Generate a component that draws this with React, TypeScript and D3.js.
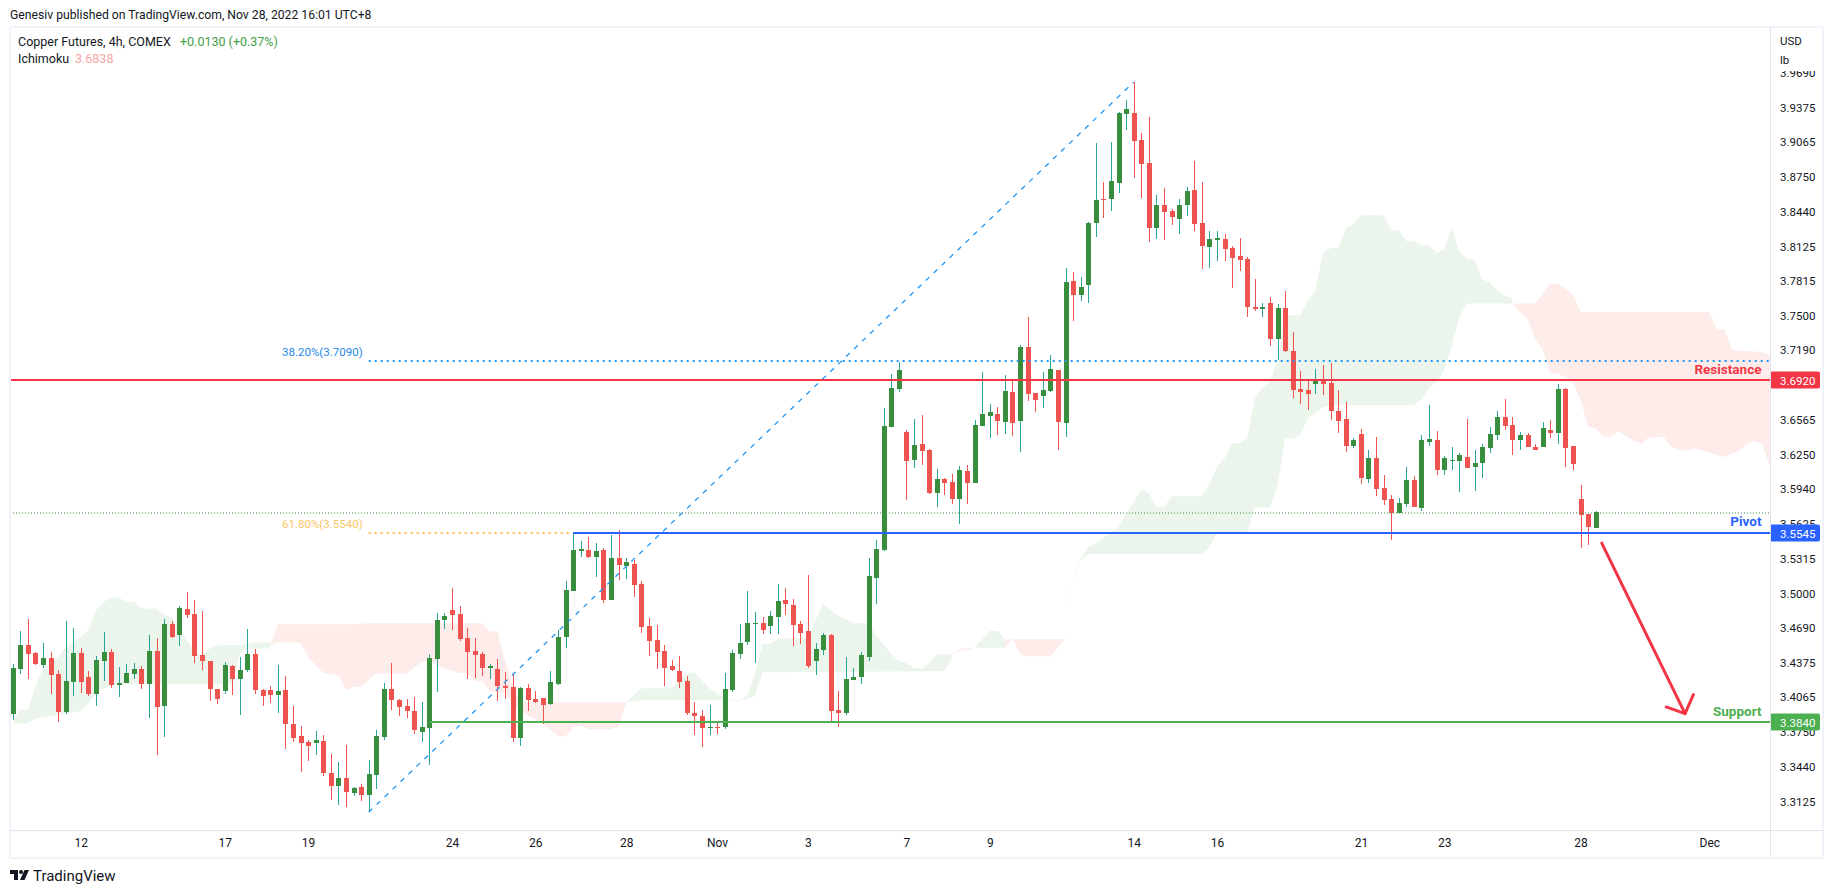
import { useEffect, useRef } from "react";
import * as d3 from "d3";

type Pt = [number, number];

const highs = [
  3.4362, 3.4659, 3.4767, 3.447, 3.4551, 3.447, 3.4308, 3.4749, 3.4686, 3.4506,
  3.4299, 3.4434, 3.465, 3.4497, 3.4335, 3.4362, 3.4371, 3.4344, 3.4623, 3.4596,
  3.4767, 3.4749, 3.4884, 3.5011, 3.4938, 3.4839, 3.4389, 3.4137, 3.438, 3.4353,
  3.4425, 3.4677, 3.4497, 3.4137, 3.4164, 3.4353, 3.4254, 3.3984, 3.3803, 3.3677,
  3.3758, 3.3722, 3.3551, 3.3479, 3.3632, 3.3254, 3.3281, 3.3497, 3.3767, 3.4191,
  3.4371, 3.4047, 3.4047, 3.4065, 3.402, 3.4452, 3.4821, 3.4821, 3.5047, 3.4884,
  3.4686, 3.4596, 3.447, 3.4362, 3.4407, 3.4289, 3.4271, 3.4154, 3.4181, 3.4118,
  3.4055, 3.4298, 3.4668, 3.5109, 3.5542, 3.547, 3.5506, 3.5452, 3.5407, 3.5524,
  3.5569, 3.5316, 3.5298, 3.5109, 3.4776, 3.4713, 3.4533, 3.4398, 3.4434, 3.4253,
  3.4019, 3.3947, 3.3992, 3.3839, 3.428, 3.4488, 3.4722, 3.5019, 3.483, 3.4785,
  3.4839, 3.5082, 3.5046, 3.4947, 3.4749, 3.5163, 3.4551, 3.4641, 3.4632, 3.4118,
  3.4425, 3.4325, 3.447, 3.5316, 3.5479, 3.6667, 3.6974, 3.7082, 3.6469, 3.6568,
  3.6604, 3.6298, 3.6118, 3.6037, 3.6073, 3.6145, 3.6154, 3.6559, 3.6992, 3.6703,
  3.6676, 3.6965, 3.6919, 3.7235, 3.7488, 3.6802, 3.6992, 3.7145, 3.701, 3.7929,
  3.7893, 3.7848, 3.8344, 3.9055, 3.8704, 3.9064, 3.9335, 3.9443, 3.9605, 3.9145,
  3.9289, 3.8587, 3.865, 3.8461, 3.8551, 3.8659, 3.8893, 3.8704, 3.8262, 3.8262,
  3.8235, 3.8127, 3.8199, 3.8028, 3.783, 3.7614, 3.7668, 3.7605, 3.7722, 3.7353,
  3.7001, 3.692, 3.702, 3.7055, 3.7074, 3.683, 3.6722, 3.6398, 3.6479, 3.629,
  3.6407, 3.6065, 3.5884, 3.5857, 3.6137, 3.6056, 3.6425, 3.6695, 3.6461, 3.6236,
  3.6317, 3.6263, 3.6568, 3.629, 3.6344, 3.6497, 3.6641, 3.6749, 3.6587, 3.6452,
  3.6443, 3.6344, 3.6542, 3.656, 3.6884, 3.6848, 3.6326, 3.5975, 3.5713, 3.574,
];

const lows = [
  3.3857, 3.4272, 3.4227, 3.4353, 3.4326, 3.4092, 3.3839, 3.3911, 3.4074, 3.4101,
  3.4074, 3.3984, 3.4209, 3.4146, 3.4065, 3.4191, 3.4227, 3.4137, 3.3875, 3.3542,
  3.3704, 3.4596, 3.4524, 3.4776, 3.4371, 3.4308, 3.4029, 3.4002, 3.4092, 3.4083,
  3.3902, 3.429, 3.4092, 3.3984, 3.4011, 3.392, 3.3596, 3.3659, 3.3389, 3.3488,
  3.3542, 3.3353, 3.3137, 3.3092, 3.3074, 3.3173, 3.3128, 3.3029, 3.3236, 3.3677,
  3.3947, 3.3893, 3.3875, 3.3731, 3.3659, 3.3452, 3.411, 3.4677, 3.4668, 3.4569,
  3.4226, 3.4235, 3.4253, 3.4226, 3.4028, 3.4046, 3.3659, 3.3623, 3.3938, 3.401,
  3.3821, 3.3992, 3.4172, 3.4506, 3.5019, 3.5325, 3.5316, 3.5145, 3.4911, 3.4938,
  3.5118, 3.5127, 3.4965, 3.4641, 3.4434, 3.4316, 3.4163, 3.4298, 3.4145, 3.3902,
  3.3722, 3.3614, 3.3722, 3.3731, 3.3776, 3.4109, 3.4407, 3.4533, 3.4371, 3.4632,
  3.4632, 3.4632, 3.4803, 3.4524, 3.4542, 3.4325, 3.4262, 3.4443, 3.3848, 3.3794,
  3.3902, 3.4217, 3.4181, 3.4389, 3.4902, 3.5379, 3.6496, 3.6811, 3.5838, 3.6127,
  3.6154, 3.5892, 3.5775, 3.5883, 3.5802, 3.5622, 3.5802, 3.5992, 3.6505, 3.6397,
  3.6424, 3.6433, 3.6415, 3.6271, 3.673, 3.6631, 3.6667, 3.6811, 3.6289, 3.6406,
  3.7452, 3.7632, 3.7614, 3.8208, 3.838, 3.8443, 3.8605, 3.9172, 3.874, 3.856,
  3.8163, 3.819, 3.8181, 3.8317, 3.8235, 3.8398, 3.8262, 3.792, 3.7929, 3.7992,
  3.7992, 3.7749, 3.7902, 3.7488, 3.7542, 3.7488, 3.7226, 3.71, 3.7172, 3.6758,
  3.6704, 3.665, 3.6794, 3.6785, 3.656, 3.6443, 3.6272, 3.6308, 3.5984, 3.5992,
  3.5875, 3.5794, 3.5479, 3.5722, 3.5776, 3.5776, 3.574, 3.6326, 3.6065, 3.6065,
  3.6109, 3.5911, 3.6127, 3.592, 3.6037, 3.6263, 3.638, 3.647, 3.6245, 3.629,
  3.6317, 3.629, 3.6317, 3.6398, 3.6344, 3.6137, 3.6109, 3.5407, 3.5434, 3.5587,
];

const opens = [
  3.3911, 3.4317, 3.4533, 3.4461, 3.4353, 3.4416, 3.4272, 3.3929, 3.42, 3.4461,
  3.4245, 3.4092, 3.4389, 3.447, 3.4173, 3.4191, 3.4272, 3.4317, 3.4182, 3.4479,
  3.3984, 3.4722, 3.4623, 3.4857, 3.4812, 3.4443, 3.4389, 3.4137, 3.4119, 3.4344,
  3.4227, 3.4308, 3.4452, 3.4128, 3.4128, 3.4083, 3.4128, 3.3821, 3.3713, 3.3659,
  3.365, 3.3668, 3.338, 3.3263, 3.3335, 3.32, 3.3254, 3.3182, 3.3362, 3.3704,
  3.4137, 3.4038, 3.3984, 3.3938, 3.3749, 3.3785, 3.4407, 3.4758, 3.4848, 3.4812,
  3.4596, 3.4479, 3.4452, 3.4325, 3.4316, 3.4163, 3.4154, 3.3695, 3.4145, 3.4046,
  3.4055, 3.4001, 3.4181, 3.4605, 3.5019, 3.538, 3.5389, 3.5325, 3.5389, 3.4938,
  3.5316, 3.5244, 3.5262, 3.5082, 3.4704, 3.4578, 3.4479, 3.4344, 3.4298, 3.4208,
  3.392, 3.3893, 3.3785, 3.3794, 3.3794, 3.4127, 3.4452, 3.456, 3.4722, 3.4731,
  3.4704, 3.4785, 3.4938, 3.4893, 3.4722, 3.4659, 3.4389, 3.4488, 3.4623, 3.3947,
  3.392, 3.4217, 3.4244, 3.4425, 3.5136, 3.5388, 3.6496, 3.6838, 3.6451, 3.6199,
  3.6343, 3.6289, 3.5901, 3.6028, 3.6001, 3.5847, 3.61, 3.5992, 3.6505, 3.6595,
  3.6613, 3.6541, 3.6811, 3.655, 3.7217, 3.6802, 3.6775, 3.682, 3.701, 3.6532,
  3.7812, 3.7686, 3.7776, 3.8335, 3.8551, 3.8551, 3.8695, 3.9317, 3.9326, 3.9082,
  3.8875, 3.8289, 3.8497, 3.8443, 3.8371, 3.8497, 3.8632, 3.8335, 3.8118, 3.8181,
  3.819, 3.8109, 3.8037, 3.801, 3.7578, 3.756, 3.7614, 3.729, 3.7569, 3.7181,
  3.6839, 3.683, 3.6884, 3.692, 3.6893, 3.6641, 3.6569, 3.6326, 3.6434, 3.6028,
  3.6218, 3.5947, 3.5848, 3.5722, 3.5803, 3.602, 3.5767, 3.6362, 3.638, 3.6109,
  3.6191, 3.6191, 3.6227, 3.6137, 3.6173, 3.6308, 3.6425, 3.6587, 3.6515, 3.638,
  3.6425, 3.6317, 3.6317, 3.647, 3.6443, 3.6839, 3.6326, 3.5848, 3.5713, 3.5587,
];

const closes = [
  3.4326, 3.4533, 3.4452, 3.4362, 3.4416, 3.4263, 3.3929, 3.4209, 3.4461, 3.42,
  3.4092, 3.4398, 3.447, 3.4173, 3.4191, 3.4281, 3.4317, 3.4182, 3.4479, 3.3974,
  3.4722, 3.4605, 3.4866, 3.4803, 3.4434, 3.4389, 3.4137, 3.4047, 3.4353, 3.4227,
  3.4308, 3.4452, 3.4128, 3.4074, 3.4083, 3.4119, 3.3821, 3.3695, 3.365, 3.3623,
  3.3677, 3.338, 3.3263, 3.3335, 3.3209, 3.3245, 3.3182, 3.3371, 3.3713, 3.4137,
  3.4038, 3.3974, 3.3938, 3.3767, 3.3794, 3.4416, 3.4758, 3.4794, 3.4803, 3.4587,
  3.447, 3.4443, 3.4325, 3.4344, 3.4163, 3.4145, 3.3695, 3.4145, 3.4037, 3.4019,
  3.3992, 3.4199, 3.4605, 3.5028, 3.5389, 3.5398, 3.5325, 3.538, 3.4938, 3.5316,
  3.5253, 3.528, 3.5073, 3.4695, 3.4569, 3.447, 3.4325, 3.4307, 3.4199, 3.392,
  3.3893, 3.3785, 3.3794, 3.3785, 3.4136, 3.4461, 3.4551, 3.4731, 3.4731, 3.4668,
  3.4794, 3.4929, 3.4902, 3.4713, 3.4641, 3.4344, 3.4497, 3.4623, 3.3938, 3.392,
  3.4226, 3.4244, 3.4443, 3.5154, 3.5398, 3.6505, 3.6847, 3.701, 3.619, 3.6334,
  3.628, 3.5901, 3.6028, 3.5992, 3.5847, 3.6109, 3.5992, 3.6514, 3.6613, 3.6631,
  3.655, 3.682, 3.6532, 3.7217, 3.6793, 3.6739, 3.6829, 3.7019, 3.6541, 3.7803,
  3.7686, 3.7758, 3.8335, 3.8542, 3.8542, 3.8713, 3.9326, 3.9362, 3.9073, 3.8866,
  3.8289, 3.8497, 3.8434, 3.8389, 3.8497, 3.8623, 3.8326, 3.8127, 3.819, 3.8199,
  3.81, 3.8019, 3.8001, 3.7578, 3.756, 3.7578, 3.729, 3.7569, 3.7181, 3.683,
  3.6812, 3.6794, 3.692, 3.6884, 3.6641, 3.655, 3.6326, 3.638, 3.6037, 3.6218,
  3.5938, 3.5838, 3.5722, 3.5812, 3.602, 3.5776, 3.638, 3.6389, 3.6109, 3.6218,
  3.62, 3.6245, 3.6127, 3.6173, 3.6317, 3.6434, 3.6587, 3.6506, 3.638, 3.6425,
  3.6317, 3.629, 3.6488, 3.6443, 3.6839, 3.6308, 3.6164, 3.5704, 3.5596, 3.5731,
];

// ichimoku cloud outlines, [bar index, price]
const greenTop1: Pt[] = [
  [0, 3.3827], [1, 3.3956], [2, 3.3956], [3, 3.4158], [4, 3.4323], [6, 3.4428], [7, 3.4518],
  [9, 3.4608], [10, 3.4668], [11, 3.4848], [12, 3.4923], [13, 3.4962], [14, 3.4962], [15, 3.4923],
  [16, 3.4923], [17, 3.4863], [19, 3.4863], [20, 3.4803], [21, 3.4782], [23, 3.4578], [24, 3.4473],
  [25, 3.4443], [26, 3.4503], [27, 3.4533], [30, 3.4533], [32, 3.456], [34, 3.456],
];
const greenBottom1: Pt[] = [
  [0, 3.3827], [2, 3.3827], [3, 3.3872], [9, 3.3941], [10, 3.4007], [11, 3.4113], [13, 3.4173],
  [14, 3.4182], [29, 3.4182], [30, 3.4458], [31, 3.4503], [34, 3.4503],
];
const redTop1: Pt[] = [
  [34, 3.4533], [35, 3.4722], [45, 3.4722], [47, 3.4731], [62, 3.4731], [63, 3.4659], [64, 3.4659],
  [65, 3.4398], [66, 3.4157], [67, 3.4037], [68, 3.4019], [81, 3.4019],
];
const redBottom1: Pt[] = [
  [34, 3.4533], [35, 3.456], [38, 3.4554], [39, 3.4428], [40, 3.4353], [41, 3.4284], [43, 3.4263],
  [44, 3.4128], [45, 3.4158], [46, 3.4158], [48, 3.4278], [52, 3.4278], [54, 3.4383], [55, 3.4398],
  [57, 3.4322], [59, 3.4283], [60, 3.4283], [61, 3.4208], [62, 3.4208], [63, 3.4121], [65, 3.4103],
  [66, 3.4007], [68, 3.3902], [70, 3.3827], [72, 3.3713], [73, 3.3713], [74, 3.3797], [75, 3.3812],
  [76, 3.3776], [79, 3.3776], [80, 3.3797], [81, 3.4019],
];
const greenTop2: Pt[] = [
  [81, 3.4019], [83, 3.4145], [87, 3.4145], [89, 3.4277], [90, 3.4289], [91, 3.4217], [92, 3.4142],
  [93, 3.4097], [94, 3.4061], [95, 3.4037],
];
const greenBottom2: Pt[] = [[81, 3.4019], [83, 3.4037], [95, 3.4037]];
const redTop2: Pt[] = [[95, 3.4037], [96, 3.4037]];
const redBottom2: Pt[] = [[95, 3.4037], [96, 3.4025]];
const greenTop3: Pt[] = [
  [96, 3.4037], [97, 3.4082], [98, 3.4277], [99, 3.4542], [100, 3.4542], [101, 3.4596], [105, 3.4596],
  [106, 3.4758], [107, 3.4914], [108, 3.4848], [109, 3.4803], [111, 3.4731], [113, 3.4731], [114, 3.4623],
  [115, 3.4532], [116, 3.4457], [117, 3.4388], [118, 3.4373], [119, 3.4328], [120, 3.4322], [121, 3.4376],
  [122, 3.4451], [124, 3.4451],
];
const greenBottom3: Pt[] = [[96, 3.4031], [98, 3.4073], [99, 3.4289], [117, 3.4295], [123, 3.4301], [124, 3.4412]];
const redTop3: Pt[] = [[124, 3.4445], [125, 3.4502], [127, 3.4511]];
const redBottom3: Pt[] = [[124, 3.4445], [125, 3.4481], [126, 3.4493], [127, 3.4511]];
const greenTop4: Pt[] = [[127, 3.4511], [128, 3.4586], [129, 3.4661], [130, 3.4661], [131, 3.4586]];
const greenBottom4: Pt[] = [[127, 3.4511], [131, 3.4511]];
const redTop4: Pt[] = [[131, 3.4586], [139, 3.4586]];
const redBottom4: Pt[] = [
  [131, 3.4511], [132, 3.4586], [133, 3.4448], [134, 3.4433], [137, 3.4433], [138, 3.4514], [139, 3.4586],
];
const greenTop5: Pt[] = [
  [139, 3.4586], [140, 3.5145], [141, 3.5316], [142, 3.5418], [143, 3.5452], [146, 3.5596], [147, 3.5713],
  [148, 3.5824], [149, 3.5938], [150, 3.5902], [151, 3.5779], [152, 3.5779], [153, 3.5875], [157, 3.5875],
  [158, 3.5983], [159, 3.6139], [160, 3.6217], [161, 3.6352], [162, 3.6352], [163, 3.6409], [164, 3.6758],
  [165, 3.6848], [166, 3.6911], [167, 3.71], [168, 3.7506], [170, 3.7506], [171, 3.7641], [172, 3.7731],
  [173, 3.8067], [174, 3.8112], [175, 3.8112], [176, 3.8287], [177, 3.8332], [178, 3.8406], [181, 3.8406],
  [182, 3.8271], [183, 3.8271], [184, 3.8172], [185, 3.8172], [186, 3.8133], [187, 3.8133], [188, 3.8067],
  [189, 3.8097], [190, 3.8301], [191, 3.8076], [192, 3.801], [193, 3.801], [194, 3.783], [195, 3.7803],
  [196, 3.7731], [197, 3.7683], [198, 3.7656],
];
const greenBottom5: Pt[] = [
  [139, 3.4586], [140, 3.513], [141, 3.5298], [142, 3.5352], [157, 3.5352], [158, 3.5418], [159, 3.5542],
  [163, 3.5542], [164, 3.5773], [166, 3.5773], [167, 3.5974], [168, 3.6395], [169, 3.6395], [170, 3.6425],
  [171, 3.658], [172, 3.6623], [173, 3.6677], [174, 3.6695], [185, 3.6695], [186, 3.6746], [187, 3.6848],
  [188, 3.6905], [189, 3.701], [190, 3.7235], [191, 3.749], [192, 3.7611], [198, 3.7611],
];
const redTop5: Pt[] = [
  [198, 3.7611], [201, 3.7611], [202, 3.7695], [203, 3.7791], [204, 3.7791], [205, 3.7743], [206, 3.7695],
  [207, 3.7535], [224, 3.7535], [225, 3.7379], [226, 3.7379], [227, 3.719], [231, 3.7175], [232, 3.7145],
];
const redBottom5: Pt[] = [
  [198, 3.7611], [199, 3.7535], [200, 3.747], [201, 3.7296], [202, 3.7197], [203, 3.6986], [204, 3.698],
  [205, 3.6944], [206, 3.6905], [207, 3.674], [208, 3.6505], [209, 3.6484], [210, 3.6415], [211, 3.6409],
  [212, 3.646], [213, 3.6418], [214, 3.6374], [215, 3.6349], [216, 3.6403], [218, 3.6409], [219, 3.6319],
  [220, 3.6295], [221, 3.6283], [222, 3.6304], [223, 3.6289], [225, 3.6244], [226, 3.6229], [228, 3.629],
  [229, 3.6349], [230, 3.6373], [231, 3.6343], [232, 3.6145],
];

const greenClouds = [
  [greenTop1, greenBottom1], [greenTop2, greenBottom2], [greenTop3, greenBottom3],
  [greenTop4, greenBottom4], [greenTop5, greenBottom5],
];
const redClouds = [
  [redTop1, redBottom1], [redTop2, redBottom2], [redTop3, redBottom3],
  [redTop4, redBottom4], [redTop5, redBottom5],
];

const priceTicks = [
  3.969, 3.9375, 3.9065, 3.875, 3.844, 3.8125, 3.7815, 3.75, 3.719, 3.6565, 3.625, 3.594,
  3.5625, 3.5315, 3.5, 3.469, 3.4375, 3.4065, 3.375, 3.344, 3.3125,
];
const timeTickBars = [9, 28, 39, 58, 69, 81, 93, 105, 118, 129, 148, 159, 178, 189, 207, 224];
const timeTickLabels = ["12", "17", "19", "24", "26", "28", "Nov", "3", "7", "9", "14", "16", "21", "23", "28", "Dec"];

const resistance = 3.692;
const pivot = 3.5545;
const support = 3.384;
const fib382 = 3.709;
const fib618 = 3.554;
const lastClose = 3.5728;
const pivotStartBar = 74;
const supportStartBar = 55;
const trendFrom: Pt = [47, 3.3029];
const trendTo: Pt = [148, 3.9605];
const arrowLine: Pt[] = [[209.8, 3.5452], [220.8, 3.3917]];
const arrowHead: Pt[] = [[218.3, 3.3977], [220.8, 3.3917], [221.9, 3.4088]];

const W = 1834;
const H = 893;
const plot = { left: 10, right: 1770, top: 27, bottom: 830 };
const FONT = "Roboto, sans-serif";
const UP_BODY = "#388e3c";
const UP_WICK = "#26a69a";
const DOWN = "#ef5350";
const RED = "#f23645";
const BLUE = "#2962ff";
const GREEN = "#4caf50";

export default function App() {
  const svgRef = useRef<SVGSVGElement>(null);

  useEffect(() => {
    if (!svgRef.current) return;
    const svg = d3.select(svgRef.current);
    svg.selectAll("*").remove();

    const x = d3.scaleLinear().domain([0, 232]).range([12.7, 1769.9]);
    const y = d3.scaleLinear().domain([3.3125, 3.9375]).range([801.5, 107.7]);

    svg.append("rect").attr("width", W).attr("height", H).attr("fill", "#fff");

    svg
      .append("defs")
      .append("clipPath")
      .attr("id", "plot-clip")
      .append("rect")
      .attr("x", plot.left)
      .attr("y", plot.top)
      .attr("width", plot.right - plot.left)
      .attr("height", plot.bottom - plot.top);

    const chart = svg.append("g").attr("clip-path", "url(#plot-clip)");

    // clouds
    const outline = d3
      .line<Pt>()
      .x((d) => x(d[0]))
      .y((d) => y(d[1]));
    const drawClouds = (clouds: Pt[][][], color: string) => {
      chart
        .append("g")
        .selectAll("path")
        .data(clouds)
        .join("path")
        .attr("d", (d) => outline([...d[0], ...[...d[1]].reverse()]) + "Z")
        .attr("fill", color)
        .attr("fill-opacity", 0.1);
    };
    drawClouds(greenClouds, "#43a047");
    drawClouds(redClouds, "#f44336");

    // candles
    const bars = d3.range(closes.length);
    const candles = chart.append("g").attr("shape-rendering", "crispEdges");
    candles
      .selectAll("line")
      .data(bars)
      .join("line")
      .attr("x1", (i) => Math.round(x(i)) + 0.5)
      .attr("x2", (i) => Math.round(x(i)) + 0.5)
      .attr("y1", (i) => y(highs[i]))
      .attr("y2", (i) => y(lows[i]))
      .attr("stroke", (i) => (closes[i] >= opens[i] ? UP_WICK : DOWN));
    candles
      .selectAll("rect")
      .data(bars)
      .join("rect")
      .attr("x", (i) => Math.round(x(i)) - 2)
      .attr("width", 5)
      .attr("y", (i) => y(Math.max(opens[i], closes[i])))
      .attr("height", (i) => Math.max(1, Math.abs(y(opens[i]) - y(closes[i]))))
      .attr("fill", (i) => (closes[i] >= opens[i] ? UP_BODY : DOWN));

    // last price, fib levels, trend
    const hLine = (from: number, to: number, price: number, color: string, width: number, dash?: string) =>
      chart
        .append("line")
        .attr("x1", from)
        .attr("x2", to)
        .attr("y1", Math.round(y(price)))
        .attr("y2", Math.round(y(price)))
        .attr("stroke", color)
        .attr("stroke-width", width)
        .attr("stroke-dasharray", dash ?? null);

    hLine(plot.left, plot.right, lastClose, UP_BODY, 1, "1 2");
    hLine(x(trendFrom[0]), plot.right, fib382, "#2196f3", 2, "2 4");
    hLine(x(trendFrom[0]), x(pivotStartBar), fib618, "#ffb74d", 2, "2 4");
    chart
      .append("line")
      .attr("x1", x(trendFrom[0]))
      .attr("y1", y(trendFrom[1]))
      .attr("x2", x(trendTo[0]))
      .attr("y2", y(trendTo[1]))
      .attr("stroke", "#2196f3")
      .attr("stroke-width", 1.3)
      .attr("stroke-dasharray", "5 6");

    hLine(plot.left, plot.right, resistance, RED, 2);
    hLine(x(pivotStartBar), plot.right, pivot, BLUE, 2);
    hLine(x(supportStartBar), plot.right, support, GREEN, 2);

    // arrow
    const arrow = chart
      .append("g")
      .attr("fill", "none")
      .attr("stroke", RED)
      .attr("stroke-width", 3)
      .attr("stroke-linecap", "round")
      .attr("stroke-linejoin", "round");
    arrow.append("path").attr("d", outline(arrowLine));
    arrow.append("path").attr("d", outline(arrowHead));

    const label = (px: number, py: number, text: string, color: string, size = 12, anchor = "start", weight = 400) =>
      svg
        .append("text")
        .attr("x", px)
        .attr("y", py)
        .attr("fill", color)
        .attr("font-family", FONT)
        .attr("font-size", size)
        .attr("font-weight", weight)
        .attr("text-anchor", anchor)
        .text(text);

    label(x(trendFrom[0]) - 6, y(fib382) - 5, "38.20%(3.7090)", "#1e88e5", 11.5, "end");
    label(x(trendFrom[0]) - 6, y(fib618) - 5, "61.80%(3.5540)", "#f9c66a", 11.5, "end");
    label(1761.5, y(resistance) - 6, "Resistance", RED, 13.5, "end", 700);
    label(1761.5, y(pivot) - 7, "Pivot", BLUE, 13.5, "end", 700);
    label(1761.5, y(support) - 6, "Support", GREEN, 13.5, "end", 700);

    // axes
    const priceAxis = svg
      .append("g")
      .attr("transform", `translate(${plot.right},0)`)
      .call(
        d3
          .axisRight(y)
          .tickValues(priceTicks)
          .tickSize(0)
          .tickPadding(10)
          .tickFormat((d) => d3.format(".4f")(d as number))
      );
    priceAxis.select(".domain").remove();
    priceAxis.selectAll("text").attr("fill", "#131722").attr("font-family", FONT).attr("font-size", 11.5);

    const timeAxis = svg
      .append("g")
      .attr("transform", `translate(0,${plot.bottom})`)
      .call(
        d3
          .axisBottom(x)
          .tickValues(timeTickBars)
          .tickSize(0)
          .tickPadding(8)
          .tickFormat((_, i) => timeTickLabels[i])
      );
    timeAxis.select(".domain").remove();
    timeAxis.selectAll("text").attr("fill", "#131722").attr("font-family", FONT).attr("font-size", 12);

    // top of the price scale is masked by the currency block
    svg.append("rect").attr("x", plot.right + 1).attr("y", 27).attr("width", 52).attr("height", 44).attr("fill", "#fff");
    label(1780, 45, "USD", "#131722", 11.5);
    label(1780, 64, "lb", "#131722", 11.5);

    // price badges
    const badge = (price: number, color: string) => {
      const py = Math.round(y(price));
      svg
        .append("rect")
        .attr("x", plot.right)
        .attr("y", py - 8.5)
        .attr("width", 50)
        .attr("height", 17)
        .attr("rx", 2)
        .attr("fill", color);
      label(1780, py + 4.5, d3.format(".4f")(price), "#fff", 11.5);
    };
    badge(resistance, RED);
    badge(pivot, BLUE);
    badge(support, GREEN);

    // frame
    svg
      .append("rect")
      .attr("x", 10)
      .attr("y", 27)
      .attr("width", 1813)
      .attr("height", 831)
      .attr("rx", 2)
      .attr("fill", "none")
      .attr("stroke", "#f0f3fa")
      .attr("stroke-width", 2);
    svg
      .append("line")
      .attr("x1", plot.left)
      .attr("x2", 1823)
      .attr("y1", plot.bottom + 0.5)
      .attr("y2", plot.bottom + 0.5)
      .attr("stroke", "#e0e3eb");
    svg
      .append("line")
      .attr("x1", plot.right + 0.5)
      .attr("x2", plot.right + 0.5)
      .attr("y1", 27)
      .attr("y2", 858)
      .attr("stroke", "#e0e3eb");

    // header and legend
    label(10, 19, "Genesiv published on TradingView.com, Nov 28, 2022 16:01 UTC+8", "#131722", 12.2);
    label(18, 46, "Copper Futures, 4h, COMEX", "#131722", 12.5);
    label(180, 46, "+0.0130 (+0.37%)", "#43a047", 12.5);
    label(18, 63, "Ichimoku", "#131722", 12.5);
    label(75, 63, "3.6838", "#f7a6a6", 12.5);

    // logo
    const logo = svg.append("g").attr("fill", "#131722");
    logo.append("path").attr("d", "M10 870h8v10h-4v-6h-4z");
    logo.append("circle").attr("cx", 21).attr("cy", 872).attr("r", 2);
    logo.append("path").attr("d", "M24.5 870h4.5l-4.5 10h-4.5z");
    label(33, 881, "TradingView", "#131722", 15);
  }, []);

  return (
    <svg
      ref={svgRef}
      width={W}
      height={H}
      style={{ position: "absolute", left: 0, top: 0, display: "block" }}
    />
  );
}
